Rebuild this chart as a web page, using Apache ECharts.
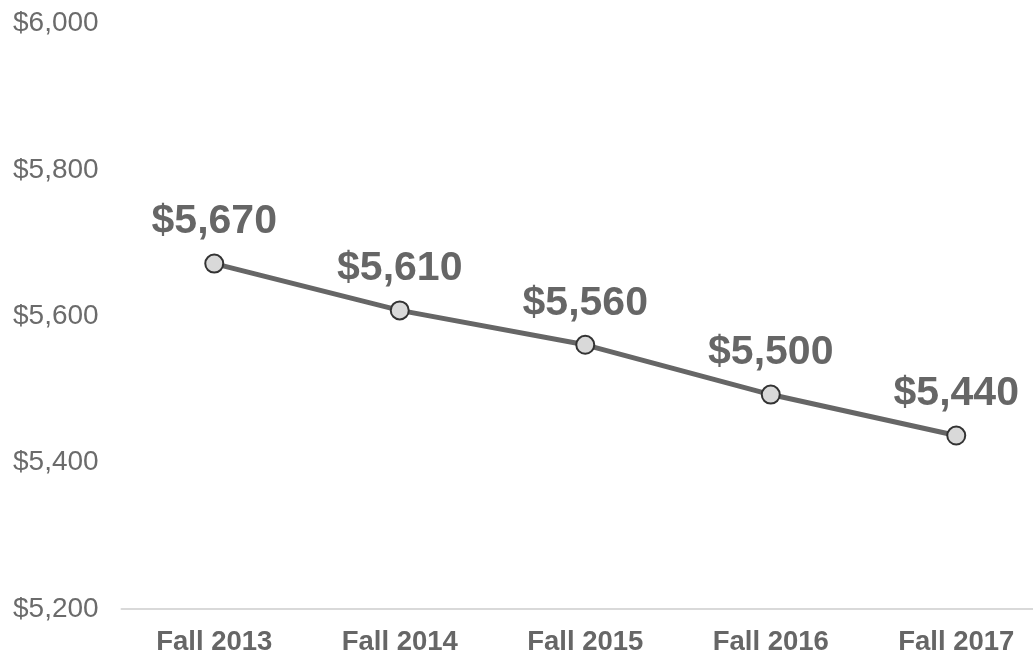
<!DOCTYPE html>
<html>
<head>
<meta charset="utf-8">
<script src="https://cdn.jsdelivr.net/npm/echarts@6/dist/echarts.min.js"></script>
<style>
html,body{margin:0;padding:0;background:#fff;overflow:hidden;width:1033px;height:656px;}
#chart{width:1060px;height:656px;}
</style>
</head>
<body>
<div id="chart"></div>
<script>
const categories = ["Fall 2013", "Fall 2014", "Fall 2015", "Fall 2016", "Fall 2017"];
const values = [5672, 5608, 5561, 5493, 5437];
const valueLabels = ["$5,670", "$5,610", "$5,560", "$5,500", "$5,440"];
const yMin = 5200, yMax = 6000, yStep = 200;

const chart = echarts.init(document.getElementById('chart'));
chart.setOption({
  animation: false,
  grid: { left: 121.5, top: 23.5, bottom: 43.5, width: 927.5, containLabel: false },
  xAxis: {
    type: 'category',
    data: categories,
    boundaryGap: true,
    axisLine: { show: true, lineStyle: { color: '#d9d9d9', width: 2 } },
    axisTick: { show: false },
    axisLabel: {
      margin: 19,
      color: '#666666',
      fontFamily: 'Liberation Sans, Arial, sans-serif',
      fontWeight: 'bold',
      fontSize: 27.5
    }
  },
  yAxis: {
    type: 'value',
    min: yMin, max: yMax, interval: yStep,
    axisLine: { show: false },
    axisTick: { show: false },
    splitLine: { show: false },
    axisLabel: {
      align: 'left',
      margin: 108.5,
      color: '#6b6b6b',
      fontFamily: 'Liberation Sans, Arial, sans-serif',
      fontSize: 28,
      formatter: v => '$' + v.toLocaleString('en-US')
    }
  },
  series: [{
    type: 'line',
    data: values,
    symbol: 'circle',
    symbolSize: 18,
    lineStyle: { color: '#666666', width: 5 },
    itemStyle: { color: '#d9d9d9', borderColor: '#333333', borderWidth: 2 },
    z: 3,
    label: {
      show: true,
      position: 'top',
      distance: 11,
      color: '#666666',
      fontFamily: 'Liberation Sans, Arial, sans-serif',
      fontWeight: 'bold',
      fontSize: 41,
      formatter: p => valueLabels[p.dataIndex]
    }
  }]
});
</script>
</body>
</html>
